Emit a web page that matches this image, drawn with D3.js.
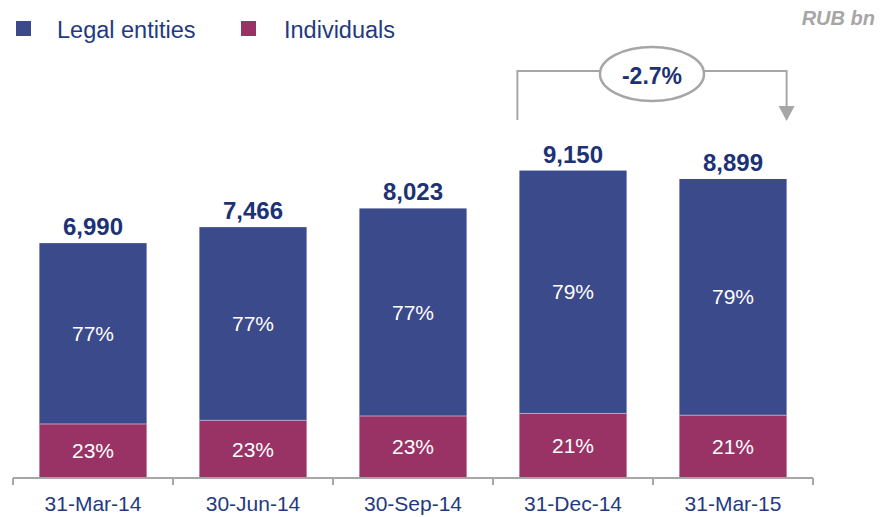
<!DOCTYPE html>
<html>
<head>
<meta charset="utf-8">
<script src="https://cdn.jsdelivr.net/npm/d3@7"></script>
<style>
  html, body { margin: 0; padding: 0; background: #fff; }
  svg { display: block; font-family: "Liberation Sans", Arial, sans-serif; }
</style>
</head>
<body>
<svg id="chart" width="880" height="517"></svg>
<script>
const categories = ["31-Mar-14", "30-Jun-14", "30-Sep-14", "31-Dec-14", "31-Mar-15"];
const totals = [6990, 7466, 8023, 9150, 8899];
const totalLabels = ["6,990", "7,466", "8,023", "9,150", "8,899"];
const legalPct = [77, 77, 77, 79, 79];
const individualsPct = [23, 23, 23, 21, 21];
const seriesNames = ["Legal entities", "Individuals"];
const changeLabel = "-2.7%";
const unitLabel = "RUB bn";

const colors = { legal: "#3b4a8a", indiv: "#993366", navy: "#1c3275", axis: "#a6a6a6", gray: "#a6a6a6" };

const svg = d3.select("#chart");
const baseY = 478;

const x = d3.scaleBand().domain(categories).range([13, 813]).paddingInner(0.33).paddingOuter(0.165);
const y = d3.scaleLinear().domain([0, 10000]).range([baseY, 142]);

const data = categories.map((c, i) => {
  const indiv = totals[i] * individualsPct[i] / 100;
  return { cat: c, total: totals[i], label: totalLabels[i], indiv, legalPct: legalPct[i], indivPct: individualsPct[i] };
});

const g = svg.append("g");

// Individuals segment
g.selectAll("rect.indiv").data(data).join("rect")
  .attr("class", "indiv")
  .attr("x", d => x(d.cat)).attr("width", x.bandwidth())
  .attr("y", d => y(d.indiv)).attr("height", d => y(0) - y(d.indiv))
  .attr("fill", colors.indiv);

// Legal segment
g.selectAll("rect.legal").data(data).join("rect")
  .attr("class", "legal")
  .attr("x", d => x(d.cat)).attr("width", x.bandwidth())
  .attr("y", d => y(d.total)).attr("height", d => y(d.indiv) - y(d.total))
  .attr("fill", colors.legal);

// thin separator between segments
g.selectAll("line.sep").data(data).join("line")
  .attr("x1", d => x(d.cat)).attr("x2", d => x(d.cat) + x.bandwidth())
  .attr("y1", d => y(d.indiv)).attr("y2", d => y(d.indiv))
  .attr("stroke", "#b9bcd6").attr("stroke-width", 0.8);

// percentage labels
g.selectAll("text.lp").data(data).join("text")
  .attr("x", d => x(d.cat) + x.bandwidth() / 2)
  .attr("y", d => (y(d.total) + y(d.indiv)) / 2)
  .attr("dy", "0.35em").attr("text-anchor", "middle")
  .attr("fill", "#fff").attr("font-size", 21)
  .text(d => d.legalPct + "%");

g.selectAll("text.ip").data(data).join("text")
  .attr("x", d => x(d.cat) + x.bandwidth() / 2)
  .attr("y", d => (y(0) + y(d.indiv)) / 2)
  .attr("dy", "0.35em").attr("text-anchor", "middle")
  .attr("fill", "#fff").attr("font-size", 21)
  .text(d => d.indivPct + "%");

// totals
g.selectAll("text.tot").data(data).join("text")
  .attr("x", d => x(d.cat) + x.bandwidth() / 2)
  .attr("y", d => y(d.total) - 8)
  .attr("text-anchor", "middle")
  .attr("fill", colors.navy).attr("font-size", 24).attr("font-weight", "bold")
  .text(d => d.label);

// axis
const axisG = svg.append("g").attr("transform", `translate(0,${baseY})`);
axisG.append("line").attr("x1", x.range()[0]).attr("x2", x.range()[1])
  .attr("y1", 0).attr("y2", 0).attr("stroke", colors.axis).attr("stroke-width", 2);
const boundaries = d3.range(categories.length + 1).map(i => x.range()[0] + i * x.step());
axisG.selectAll("line.tick").data(boundaries).join("line")
  .attr("x1", d => d).attr("x2", d => d).attr("y1", 0).attr("y2", 7)
  .attr("stroke", colors.axis).attr("stroke-width", 2);
const labelAxis = d3.axisBottom(x).tickSize(0).tickPadding(0);
const la = svg.append("g").attr("transform", `translate(0,${baseY})`).call(labelAxis);
la.select(".domain").remove();
la.selectAll("text").attr("y", 33).attr("dy", 0)
  .attr("font-size", 21).attr("fill", "#1f3a80")
  .attr("font-family", "Liberation Sans, Arial, sans-serif");

// legend
const legendItems = [
  { name: seriesNames[0], color: colors.legal, sx: 16, tx: 57 },
  { name: seriesNames[1], color: colors.indiv, sx: 241, tx: 284 }
];
const lg = svg.append("g");
lg.selectAll("rect").data(legendItems).join("rect")
  .attr("x", d => d.sx).attr("y", 21).attr("width", 15).attr("height", 15)
  .attr("fill", d => d.color);
lg.selectAll("text").data(legendItems).join("text")
  .attr("x", d => d.tx).attr("y", 37.5)
  .attr("font-size", 23.5).attr("fill", "#1f3a80")
  .text(d => d.name);

// unit
svg.append("text").attr("x", 875).attr("y", 25).attr("text-anchor", "end")
  .attr("font-size", 20).attr("font-weight", "bold").attr("font-style", "italic")
  .attr("fill", colors.gray).text(unitLabel);

// change annotation
const x4 = x(categories[3]) - 2;
const x5 = x(categories[4]) + x.bandwidth();
const topY = 71;
const ecx = 652, ecy = 74, erx = 52, ery = 27;
const ann = svg.append("g");
ann.append("path")
  .attr("d", `M${x4},120 V${topY} H${ecx - erx}`)
  .attr("fill", "none").attr("stroke", colors.gray).attr("stroke-width", 2);
ann.append("path")
  .attr("d", `M${ecx + erx},${topY} H${x5} V107`)
  .attr("fill", "none").attr("stroke", colors.gray).attr("stroke-width", 2);
ann.append("path")
  .attr("d", `M${x5 - 8},106 L${x5 + 8},106 L${x5},121 Z`)
  .attr("fill", colors.gray);
ann.append("ellipse").attr("cx", ecx).attr("cy", ecy).attr("rx", erx).attr("ry", ery)
  .attr("fill", "#fff").attr("stroke", colors.gray).attr("stroke-width", 2.5);
ann.append("text").attr("x", ecx).attr("y", 84).attr("text-anchor", "middle")
  .attr("font-size", 23).attr("font-weight", "bold").attr("fill", colors.navy)
  .text(changeLabel);
</script>
</body>
</html>
